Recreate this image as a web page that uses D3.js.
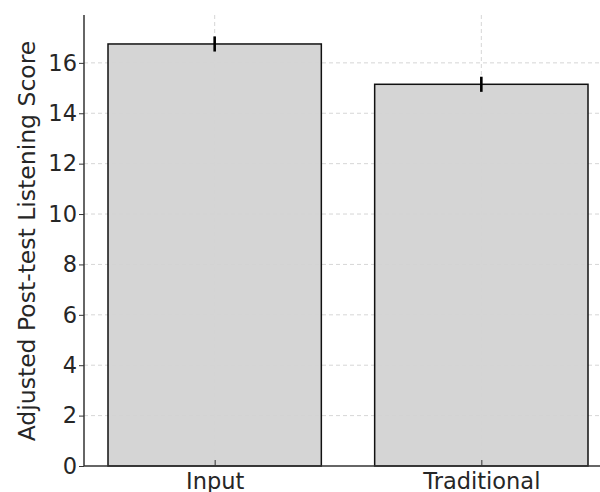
<!DOCTYPE html>
<html>
<head>
<meta charset="utf-8">
<script src="https://cdn.jsdelivr.net/npm/d3@7"></script>
<style>
  body { margin: 0; background: #fff; }
  svg { display: block; font-family: "DejaVu Sans", sans-serif; }
</style>
</head>
<body>
<div id="chart"></div>
<script>
var groups = ['Input', 'Traditional'];
var scores = [16.75, 15.15];
var errors = [0.3, 0.3];
var yTicks = [0, 2, 4, 6, 8, 10, 12, 14, 16];

(function(d3) {
    var width = 600, height = 492;
    // note: "top" is window.top, so use plot* names
    var plotLeft = 84, plotBottom = 466, plotTop = 15, plotRight = 612;

    var svg = d3.select('#chart')
        .append('svg')
        .attr('width', width)
        .attr('height', height);

    var x = d3.scaleLinear().domain([-0.49, 1.49]).range([plotLeft, plotRight]);
    var y = d3.scaleLinear().domain([0, 17.9]).range([plotBottom, plotTop]);
    var barW = x(0.8) - x(0);

    // grid
    svg.append('g').selectAll('line')
        .data(yTicks.slice(1))
        .enter().append('line')
        .attr('x1', plotLeft).attr('x2', width)
        .attr('y1', function(d) { return y(d); })
        .attr('y2', function(d) { return y(d); })
        .attr('stroke', '#cccccc').attr('stroke-width', 0.8)
        .attr('stroke-dasharray', '4,3');

    svg.append('g').selectAll('line')
        .data(groups)
        .enter().append('line')
        .attr('x1', function(d, i) { return x(i); })
        .attr('x2', function(d, i) { return x(i); })
        .attr('y1', plotTop).attr('y2', plotBottom)
        .attr('stroke', '#cccccc').attr('stroke-width', 0.8)
        .attr('stroke-dasharray', '4,3');

    // bars
    svg.append('g').selectAll('rect')
        .data(scores)
        .enter().append('rect')
        .attr('x', function(d, i) { return x(i) - barW / 2; })
        .attr('width', barW)
        .attr('y', function(d) { return y(d); })
        .attr('height', function(d) { return plotBottom - y(d); })
        .attr('fill', '#d3d3d3')
        .attr('fill-opacity', 0.95)
        .attr('stroke', '#111')
        .attr('stroke-width', 1.5);

    // error bars
    svg.append('g').selectAll('line')
        .data(scores)
        .enter().append('line')
        .attr('x1', function(d, i) { return x(i); })
        .attr('x2', function(d, i) { return x(i); })
        .attr('y1', function(d, i) { return y(d + errors[i]); })
        .attr('y2', function(d, i) { return y(d - errors[i]); })
        .attr('stroke', '#000')
        .attr('stroke-width', 2.6);

    // y axis
    var yAxis = svg.append('g')
        .attr('transform', 'translate(' + plotLeft + ',0)')
        .call(d3.axisLeft(y).tickValues(yTicks).tickSize(5).tickPadding(2));
    yAxis.select('.domain').remove();
    yAxis.selectAll('.tick line').attr('stroke', '#333').attr('stroke-width', 1);
    yAxis.selectAll('.tick text')
        .attr('fill', '#262626')
        .style('font-size', '22.5px')
        .style('font-family', '"DejaVu Sans", sans-serif');

    // x axis
    var xAxis = svg.append('g')
        .attr('transform', 'translate(0,' + plotBottom + ')')
        .call(d3.axisBottom(x).tickValues([0, 1])
            .tickFormat(function(d) { return groups[d]; })
            .tickSize(-6).tickPadding(7));
    xAxis.select('.domain').remove();
    xAxis.selectAll('.tick line').attr('stroke', '#333').attr('stroke-width', 1);
    xAxis.selectAll('.tick text')
        .attr('fill', '#262626')
        .style('font-size', '22.5px')
        .style('font-family', '"DejaVu Sans", sans-serif');

    // spines
    svg.append('line')
        .attr('x1', plotLeft).attr('x2', plotLeft)
        .attr('y1', plotTop).attr('y2', plotBottom)
        .attr('stroke', '#333').attr('stroke-width', 1.5);
    svg.append('line')
        .attr('x1', plotLeft).attr('x2', width)
        .attr('y1', plotBottom).attr('y2', plotBottom)
        .attr('stroke', '#333').attr('stroke-width', 1.5);

    // y label
    svg.append('text')
        .attr('transform', 'translate(35,241) rotate(-90)')
        .attr('text-anchor', 'middle')
        .attr('fill', '#262626')
        .style('font-size', '23.5px')
        .text('Adjusted Post-test Listening Score');
}(window.d3));
</script>
</body>
</html>
